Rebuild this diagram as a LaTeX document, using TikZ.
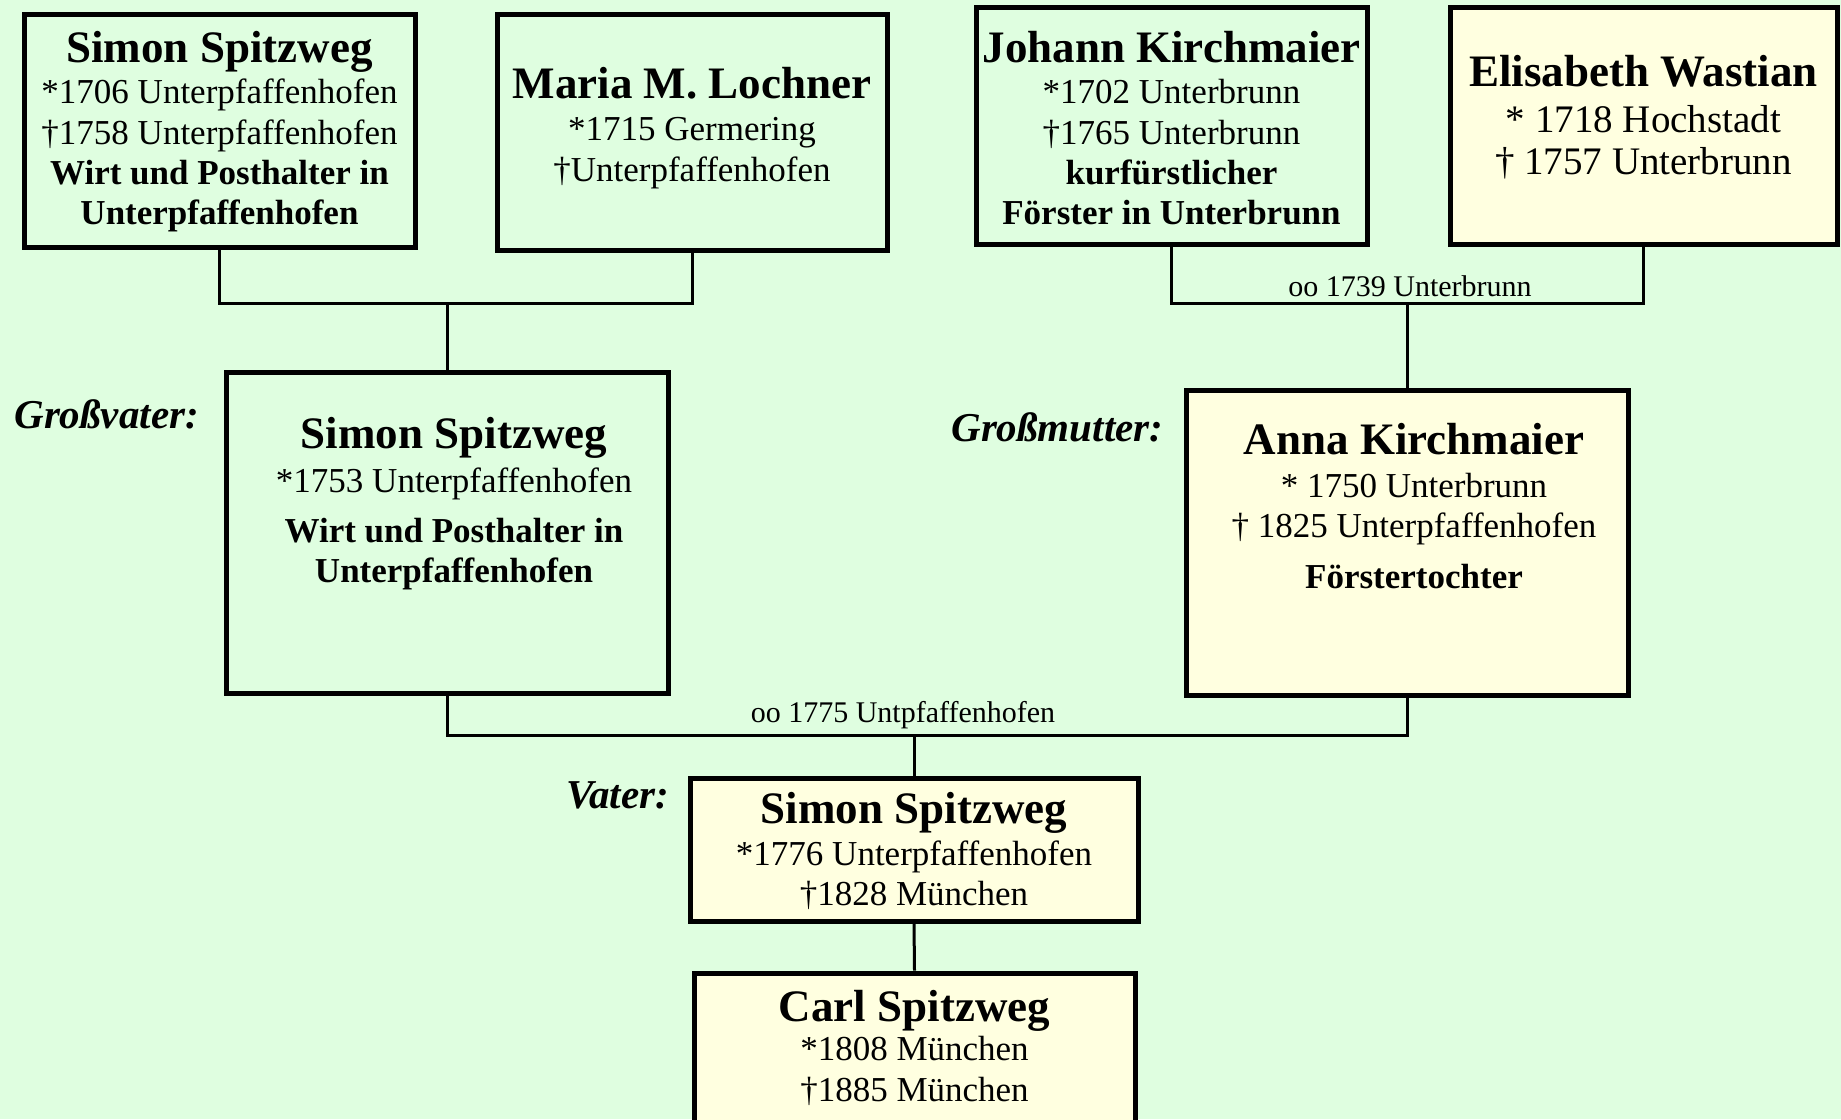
\documentclass[tikz,border=0pt]{standalone}
\usepackage{fontspec}
\setmainfont{Liberation Serif}
\definecolor{bg}{HTML}{DFFEE0}
\definecolor{yel}{HTML}{FFFFE0}
\tikzset{
  pbox/.style={draw=black, line width=2.5pt, inner sep=0pt, rectangle},
  nm/.style={anchor=base, font=\fontsize{22.5}{27}\selectfont\bfseries, inner sep=0pt},
  ln/.style={anchor=base, font=\fontsize{17.5}{21}\selectfont, inner sep=0pt},
  lnb/.style={anchor=base, font=\fontsize{17.5}{21}\selectfont\bfseries, inner sep=0pt},
  lnl/.style={anchor=base, font=\fontsize{19.5}{23}\selectfont, inner sep=0pt},
  sm/.style={anchor=base, font=\fontsize{15}{18}\selectfont, inner sep=0pt},
  rl/.style={anchor=base west, font=\fontsize{20.5}{24}\selectfont\bfseries\itshape, inner sep=0pt},
  con/.style={line width=1.5pt},
}
\begin{document}
\begin{tikzpicture}[x=0.5pt, y=-0.5pt]
\fill[bg] (0,0) rectangle (1841,1119);
\useasboundingbox (0,0) rectangle (1841,1119);
\clip (0,0) rectangle (1841,1119);

% boxes
\node[pbox, fill=bg, minimum width=195.5pt, minimum height=116.5pt] (A) at (219.5,130.5) {};
\node[pbox, fill=bg, minimum width=195pt, minimum height=118pt] (B) at (692,132) {};
\node[pbox, fill=bg, minimum width=195.5pt, minimum height=118.5pt] (C) at (1171.5,125.5) {};
\node[pbox, fill=yel, minimum width=193.5pt, minimum height=118.5pt] (D) at (1643.5,125.5) {};
\node[pbox, fill=bg, minimum width=221pt, minimum height=160.5pt] (E) at (447,532.5) {};
\node[pbox, fill=yel, minimum width=221pt, minimum height=152.5pt] (F) at (1407,542.5) {};
\node[pbox, fill=yel, minimum width=224pt, minimum height=71.5pt] (G) at (914,849.5) {};
\node[pbox, fill=yel, minimum width=220.5pt, minimum height=76pt] (H) at (914.5,1049) {};

% connectors
\coordinate (jab) at (E.north |- 0,303);
\coordinate (jcd) at (F.north |- 0,303);
\coordinate (jef) at (G.north |- 0,735);
\draw[con] (A.south) |- (jab) -| (B.south);
\draw[con] (jab) -- (E.north);
\draw[con] (C.south) |- (jcd) -| (D.south);
\draw[con] (jcd) -- (F.north);
\draw[con] (E.south) |- (jef) -| (F.south);
\draw[con] (jef) -- (G.north);
\draw[con] (G.south) -- (H.north);

% texts A
\node[nm] (a1) at (219.5,62) {Simon Spitzweg};
\node[ln] (a2) at (219.5,103) {*1706 Unterpfaffenhofen};
\node[ln] (a3) at (219.5,144) {†1758 Unterpfaffenhofen};
\node[lnb] (a4) at (219.5,184) {Wirt und Posthalter in};
\node[lnb] (a5) at (219.5,224) {Unterpfaffenhofen};
% B
\node[nm] (b1) at (692,98) {Maria M. Lochner};
\node[ln] (b2) at (692,140) {*1715 Germering};
\node[ln] (b3) at (692,181) {†Unterpfaffenhofen};
% C
\node[nm] (c1) at (1171.5,62) {Johann Kirchmaier};
\node[ln] (c2) at (1171.5,103) {*1702 Unterbrunn};
\node[ln] (c3) at (1171.5,144) {†1765 Unterbrunn};
\node[lnb] (c4) at (1171.5,184) {kurfürstlicher};
\node[lnb] (c5) at (1171.5,224) {Förster in Unterbrunn};
% D
\node[nm] (d1) at (1643.5,86) {Elisabeth Wastian};
\node[lnl] (d2) at (1643.5,132) {* 1718 Hochstadt};
\node[lnl] (d3) at (1643.5,174) {† 1757 Unterbrunn};
% E
\node[nm] (e1) at (454,448) {Simon Spitzweg};
\node[ln] (e2) at (454,492) {*1753 Unterpfaffenhofen};
\node[lnb] (e3) at (454,542) {Wirt und Posthalter in};
\node[lnb] (e4) at (454,582) {Unterpfaffenhofen};
% F
\node[nm] (f1) at (1414,454) {Anna Kirchmaier};
\node[ln] (f2) at (1414,497) {* 1750 Unterbrunn};
\node[ln] (f3) at (1414,537) {† 1825 Unterpfaffenhofen};
\node[lnb] (f4) at (1414,588) {Förstertochter};
% G
\node[nm] (g1) at (914,823) {Simon Spitzweg};
\node[ln] (g2) at (914,865) {*1776 Unterpfaffenhofen};
\node[ln] (g3) at (914,905) {†1828 München};
% H
\node[nm] (h1) at (914.5,1021) {Carl Spitzweg};
\node[ln] (h2) at (914.5,1060) {*1808 München};
\node[ln] (h3) at (914.5,1101) {†1885 München};

% marriage labels
\node[sm] (m1) at (1410,296) {oo 1739 Unterbrunn};
\node[sm] (m2) at (903,722) {oo 1775 Untpfaffenhofen};

% role labels
\node[rl] (r1) at (14,428) {Großvater:};
\node[rl] (r2) at (951,441) {Großmutter:};
\node[rl] (r3) at (566,808) {Vater:};
\end{tikzpicture}
\end{document}
